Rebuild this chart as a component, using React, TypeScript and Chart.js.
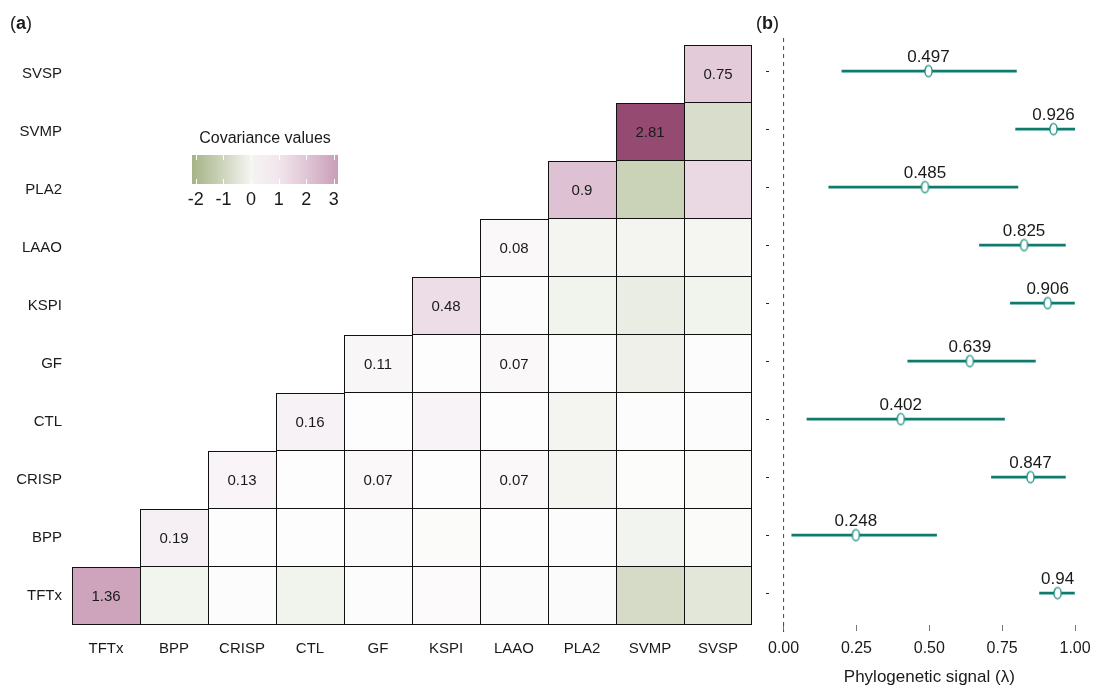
import React, { useEffect, useRef } from 'react';
import { Chart, registerables } from 'chart.js';

Chart.register(...registerables);

// ---------- data ----------
const genes = ['TFTx', 'BPP', 'CRISP', 'CTL', 'GF', 'KSPI', 'LAAO', 'PLA2', 'SVMP', 'SVSP'];

// covariance rows: values from the diagonal cell to the SVSP column
const covTFTx = [1.36, -0.26, -0.02, -0.28, -0.02, 0.04, 0.03, -0.06, -0.94, -0.61];
const covBPP = [0.19, 0, 0, 0.03, -0.05, 0, -0.02, -0.25, -0.05];
const covCRISP = [0.13, 0, 0.07, 0, 0.07, -0.22, -0.03, -0.05];
const covCTL = [0.16, 0, 0.15, 0, -0.22, -0.04, -0.04];
const covGF = [0.11, 0, 0.07, -0.02, -0.35, -0.02];
const covKSPI = [0.48, -0.02, -0.28, -0.45, -0.28];
const covLAAO = [0.08, -0.22, -0.22, -0.2];
const covPLA2 = [0.9, -1.2, 0.55];
const covSVMP = [2.81, -0.85];
const covSVSP = [0.75];
const covRows = [covTFTx, covBPP, covCRISP, covCTL, covGF, covKSPI, covLAAO, covPLA2, covSVMP, covSVSP];

// off-diagonal cells whose value is printed
const labelledPairs = [
  ['CRISP', 'GF'],
  ['CRISP', 'LAAO'],
  ['GF', 'LAAO'],
];

// phylogenetic signal (lambda), same gene order
const lambdaEst = [0.94, 0.248, 0.847, 0.402, 0.639, 0.906, 0.825, 0.485, 0.926, 0.497];
const lambdaLow = [0.877, 0.027, 0.712, 0.079, 0.425, 0.777, 0.671, 0.154, 0.795, 0.199];
const lambdaHigh = [0.999, 0.526, 0.968, 0.759, 0.865, 0.999, 0.968, 0.805, 1.0, 0.8];
const lambdaTicks = [0, 0.25, 0.5, 0.75, 1];

const legendTicks = [-2, -1, 0, 1, 2, 3];
const legendDomain = [-2.14, 3.15];

// ---------- style ----------
const FONT = "'Liberation Sans', Arial, Helvetica, sans-serif";
const TEXT = '#1a1a1a';
const TEAL = '#0f7b6c';

const WHITE = [253, 253, 253];
const POS_MID = [206, 163, 188];
const POS_HIGH = [149, 74, 114];
const NEG_LOW = [168, 181, 138];

function lerp(a: number[], b: number[], t: number) {
  const c = a.map((v, k) => Math.round(v + (b[k] - v) * Math.max(0, Math.min(1, t))));
  return `rgb(${c[0]},${c[1]},${c[2]})`;
}
function cellColor(v: number) {
  if (v >= 0) {
    if (v <= 1.36) return lerp(WHITE, POS_MID, v / 1.36);
    return lerp(POS_MID, POS_HIGH, (v - 1.36) / (2.81 - 1.36));
  }
  return lerp(WHITE, NEG_LOW, -v / 2);
}

function drawPanelTag(ctx: CanvasRenderingContext2D, x: number, y: number, letter: string) {
  ctx.save();
  ctx.fillStyle = TEXT;
  ctx.textBaseline = 'alphabetic';
  ctx.textAlign = 'left';
  ctx.font = `18px ${FONT}`;
  ctx.fillText('(', x, y);
  let w = ctx.measureText('(').width;
  ctx.font = `bold 18px ${FONT}`;
  ctx.fillText(letter, x + w, y);
  w += ctx.measureText(letter).width;
  ctx.font = `18px ${FONT}`;
  ctx.fillText(')', x + w, y);
  ctx.restore();
}

const cellLabelPlugin = {
  id: 'cellLabels',
  afterDatasetsDraw(chart: any) {
    const ctx = chart.ctx;
    ctx.save();
    ctx.font = `15px ${FONT}`;
    ctx.fillStyle = TEXT;
    ctx.textAlign = 'center';
    ctx.textBaseline = 'middle';
    genes.forEach((rowName, i) => {
      const meta = chart.getDatasetMeta(i);
      genes.forEach((colName, j) => {
        if (j < i) return;
        const show = j === i || labelledPairs.some(([r, c]) => r === rowName && c === colName);
        if (!show) return;
        const el: any = meta.data[j];
        ctx.fillText(String(covRows[i][j - i]), el.x, (el.y + el.base) / 2 + 1);
      });
    });
    ctx.restore();
  },
};

const colorbarPlugin = {
  id: 'colorbar',
  afterDraw(chart: any) {
    const ctx = chart.ctx;
    const x0 = 192, x1 = 338, y0 = 155, y1 = 184;
    const px = (v: number) => x0 + ((v - legendDomain[0]) / (legendDomain[1] - legendDomain[0])) * (x1 - x0);
    ctx.save();
    const g = ctx.createLinearGradient(x0, 0, x1, 0);
    const stops: [number, string][] = [
      [legendDomain[0], '#a6b387'],
      [-1, '#ced5bd'],
      [0, '#f5f5f2'],
      [1, '#f2e6ed'],
      [2, '#e0c6d5'],
      [legendDomain[1], '#c99eb7'],
    ];
    stops.forEach(([v, c]) => g.addColorStop((v - legendDomain[0]) / (legendDomain[1] - legendDomain[0]), c));
    ctx.fillStyle = g;
    ctx.fillRect(x0, y0, x1 - x0, y1 - y0);
    ctx.strokeStyle = '#ffffff';
    ctx.lineWidth = 1;
    legendTicks.forEach((t) => {
      const x = Math.round(px(t)) + 0.5;
      ctx.beginPath();
      ctx.moveTo(x, y0);
      ctx.lineTo(x, y0 + 5);
      ctx.moveTo(x, y1 - 5);
      ctx.lineTo(x, y1);
      ctx.stroke();
    });
    ctx.fillStyle = TEXT;
    ctx.textAlign = 'center';
    ctx.textBaseline = 'middle';
    ctx.font = `18px ${FONT}`;
    legendTicks.forEach((t) => ctx.fillText(String(t), px(t), 200));
    ctx.font = `16px ${FONT}`;
    ctx.fillText('Covariance values', 265, 139);
    ctx.restore();
    drawPanelTag(ctx, 10, 29, 'a');
  },
};

const pointLabelPlugin = {
  id: 'pointLabels',
  afterDatasetsDraw(chart: any) {
    const ctx = chart.ctx;
    const meta = chart.getDatasetMeta(0);
    ctx.save();
    ctx.font = `17px ${FONT}`;
    ctx.fillStyle = TEXT;
    ctx.textAlign = 'center';
    ctx.textBaseline = 'alphabetic';
    meta.data.forEach((el: any, i: number) => {
      ctx.fillText(String(lambdaEst[i]), el.x, el.y - 9);
    });
    ctx.restore();
    drawPanelTag(ctx, 4, 29, 'b');
  },
};

function makeEllipse() {
  const c = document.createElement('canvas');
  c.width = 11;
  c.height = 15;
  const g = c.getContext('2d')!;
  g.beginPath();
  g.ellipse(5.5, 7.5, 3.6, 5.6, 0, 0, Math.PI * 2);
  g.fillStyle = '#ffffff';
  g.fill();
  g.lineWidth = 1.4;
  g.strokeStyle = '#1a8f80';
  g.stroke();
  return c;
}

export default function App() {
  const refA = useRef<HTMLCanvasElement>(null);
  const refB = useRef<HTMLCanvasElement>(null);

  useEffect(() => {
    const last = genes.length - 1;
    const cellDatasets: any[] = genes.map((rowName, i) => ({
      label: rowName,
      data: genes.map((_, j) => (j >= i ? [i, i + 1] : null)),
      backgroundColor: genes.map((_, j) => (j >= i ? cellColor(covRows[i][j - i]) : 'rgba(0,0,0,0)')),
      borderColor: '#111111',
      borderWidth: (c: any) => {
        const j = c.dataIndex;
        if (j < i) return 0;
        return { left: 1, bottom: 1, top: j === i ? 1 : 0, right: j === last ? 1 : 0 };
      },
      borderSkipped: false,
      inflateAmount: 0,
      grouped: false,
      barPercentage: 1,
      categoryPercentage: 1,
    }));

    const chartA = new Chart(refA.current!, {
      type: 'bar',
      data: { labels: genes, datasets: cellDatasets },
      options: {
        responsive: false,
        animation: false,
        events: [],
        layout: { padding: { top: 45, right: 4, left: 0, bottom: 0 } },
        plugins: { legend: { display: false }, tooltip: { enabled: false } },
        scales: {
          x: {
            type: 'category',
            grid: { display: false, drawTicks: false },
            border: { display: false },
            ticks: { font: { size: 15, family: FONT }, color: TEXT, padding: 15, maxRotation: 0, autoSkip: false },
            afterFit: (s: any) => {
              s.height = 61;
            },
          },
          y: {
            type: 'linear',
            min: 0,
            max: 10,
            grid: { display: false, drawTicks: false },
            border: { display: false },
            afterBuildTicks: (s: any) => {
              s.ticks = genes.map((_, i) => ({ value: i + 0.5 }));
            },
            ticks: {
              callback: (v: any) => genes[Math.floor(Number(v))],
              font: { size: 15, family: FONT },
              color: TEXT,
              padding: 10,
            },
            afterFit: (s: any) => {
              s.width = 72;
            },
          },
        },
      } as any,
      plugins: [cellLabelPlugin, colorbarPlugin],
    });

    const ellipse = makeEllipse();
    const chartB = new Chart(refB.current!, {
      type: 'scatter',
      data: {
        datasets: [
          {
            type: 'scatter',
            data: lambdaEst.map((x, i) => ({ x, y: i + 0.5 })),
            pointStyle: ellipse as any,
            pointRadius: 6,
            order: 0,
          } as any,
          ...genes.map((g, i) => ({
            type: 'line',
            label: g,
            data: [
              { x: lambdaLow[i], y: i + 0.5 },
              { x: lambdaHigh[i], y: i + 0.5 },
            ],
            borderColor: TEAL,
            borderWidth: 2.6,
            borderCapStyle: 'butt',
            pointRadius: 0,
            order: 1,
          })),
          {
            type: 'line',
            data: [
              { x: 0, y: 10.07 },
              { x: 0, y: -0.17 },
            ],
            borderColor: '#444',
            borderWidth: 1,
            borderDash: [4, 4],
            pointRadius: 0,
            clip: false,
            order: 2,
          },
        ],
      } as any,
      options: {
        responsive: false,
        animation: false,
        events: [],
        layout: { padding: { top: 45, right: 8, left: 0, bottom: 0 } },
        plugins: { legend: { display: false }, tooltip: { enabled: false } },
        scales: {
          x: {
            type: 'linear',
            min: -0.05,
            max: 1.05,
            grid: { drawOnChartArea: false, drawTicks: true, tickLength: 6, color: '#777' },
            border: { display: false },
            afterBuildTicks: (s: any) => {
              s.ticks = lambdaTicks.map((v) => ({ value: v }));
            },
            ticks: {
              callback: (v: any) => Number(v).toFixed(2),
              font: { size: 16, family: FONT },
              color: TEXT,
              padding: 8,
              maxRotation: 0,
            },
            title: {
              display: true,
              text: 'Phylogenetic signal (λ)',
              font: { size: 17, family: FONT },
              color: TEXT,
              padding: 0,
            },
            afterFit: (s: any) => {
              s.height = 63;
            },
          },
          y: {
            type: 'linear',
            min: -0.05,
            max: 9.95,
            grid: { drawOnChartArea: false, drawTicks: true, tickLength: 3, color: '#222' },
            border: { display: false },
            afterBuildTicks: (s: any) => {
              s.ticks = genes.map((_, i) => ({ value: i + 0.5 }));
            },
            ticks: { callback: () => '', padding: 0 },
            afterFit: (s: any) => {
              s.width = 17;
            },
          },
        },
      } as any,
      plugins: [pointLabelPlugin],
    });

    return () => {
      chartA.destroy();
      chartB.destroy();
    };
  }, []);

  return (
    <div style={{ position: 'fixed', left: 0, top: 0, width: 1099, height: 686, background: '#ffffff', overflow: 'hidden' }}>
      <canvas
        ref={refA}
        width={756}
        height={686}
        style={{ position: 'absolute', left: 0, top: 0, width: 756, height: 686 }}
      />
      <canvas
        ref={refB}
        width={347}
        height={688}
        style={{ position: 'absolute', left: 752, top: 0, width: 347, height: 688 }}
      />
    </div>
  );
}
